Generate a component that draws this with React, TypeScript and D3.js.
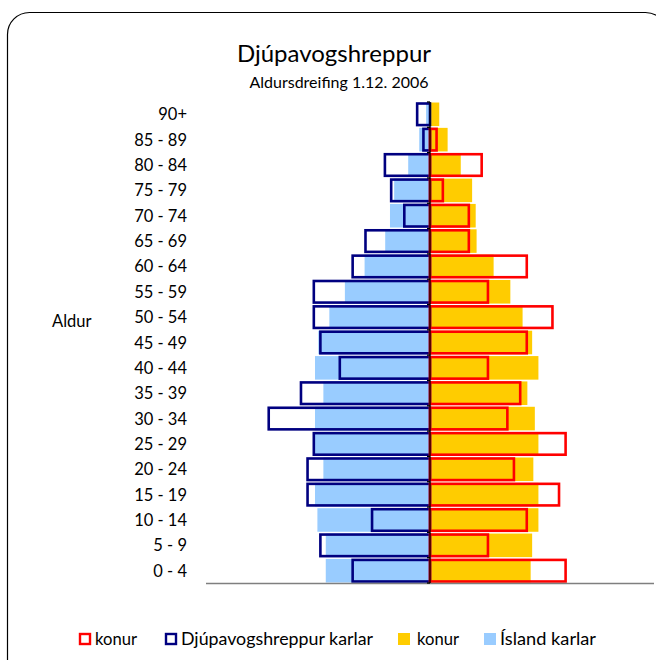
import React from "react";
import * as d3 from "d3";

const categories = [
  "0 - 4", "5 - 9", "10 - 14", "15 - 19", "20 - 24", "25 - 29", "30 - 34",
  "35 - 39", "40 - 44", "45 - 49", "50 - 54", "55 - 59", "60 - 64", "65 - 69",
  "70 - 74", "75 - 79", "80 - 84", "85 - 89", "90+",
];

// Percent of total population
const islandKarlar = [3.49, 3.49, 3.77, 3.85, 3.57, 3.87, 3.85, 3.57, 3.85, 3.74, 3.37, 2.85, 2.19, 1.50, 1.34, 1.20, 0.73, 0.36, 0.13];
const islandKonur = [3.37, 3.42, 3.63, 3.63, 3.46, 3.63, 3.51, 3.26, 3.63, 3.42, 3.10, 2.69, 2.13, 1.56, 1.53, 1.41, 1.03, 0.59, 0.31];
const djupKarlar = [2.59, 3.67, 1.94, 4.10, 4.10, 3.89, 5.40, 4.32, 3.02, 3.67, 3.89, 3.89, 2.59, 2.16, 0.86, 1.30, 1.51, 0.22, 0.43];
const djupKonur = [4.54, 1.94, 3.24, 4.32, 2.81, 4.54, 2.59, 3.02, 1.94, 3.24, 4.10, 1.94, 3.24, 1.30, 1.30, 0.43, 1.73, 0.22, 0.0];

const title = "Djúpavogshreppur";
const subtitle = "Aldursdreifing 1.12. 2006";
const yTitle = "Aldur";
const legendLabels = ["konur", "Djúpavogshreppur karlar", "konur", "Ísland karlar"];

const W = 656;
const H = 660;
const FONT = "Lato, 'Open Sans', sans-serif";

export default function App() {
  const x = d3.scaleLinear().domain([-7.5, 7.5]).range([206, 654]);
  const y = d3
    .scaleBand<string>()
    .domain([...categories].reverse())
    .range([102, 583])
    .paddingInner(0.07)
    .paddingOuter(0.02);
  const bw = y.bandwidth();
  const x0 = x(0);

  const boundaries = d3.range(categories.length + 1).map(
    (i) => 102 + (i * (583 - 102)) / categories.length
  );

  const legendItems = [
    { type: "outline", color: "#FF0000", sx: 79, tx: 95, w: 42, label: legendLabels[0] },
    { type: "outline", color: "#000080", sx: 165, tx: 181, w: 192, label: legendLabels[1] },
    { type: "fill", color: "#FFCC00", sx: 398, tx: 417, w: 42, label: legendLabels[2] },
    { type: "fill", color: "#99CCFF", sx: 484, tx: 500, w: 96, label: legendLabels[3] },
  ];

  return (
    <svg
      width={W}
      height={H}
      style={{ position: "absolute", left: 0, top: 0, background: "#fff" }}
      fontFamily={FONT}
    >
      <rect x={7.5} y={12.5} width={660} height={700} rx={22} ry={22} fill="#fff" stroke="#000" strokeWidth={1.2} />

      <text x={334} y={62} textAnchor="middle" fontSize={24} fill="#000">{title}</text>
      <text x={339} y={88} textAnchor="middle" fontSize={16} fill="#000">{subtitle}</text>

      {/* Ísland bars (filled) */}
      {categories.map((c, i) => (
        <g key={"isl" + c}>
          <rect x={x(-islandKarlar[i])} y={y(c)} width={x0 - x(-islandKarlar[i])} height={bw} fill="#99CCFF" />
          <rect x={x0} y={y(c)} width={x(islandKonur[i]) - x0} height={bw} fill="#FFCC00" />
        </g>
      ))}

      {/* Djúpavogshreppur bars (outlined) */}
      {categories.map((c, i) => (
        <g key={"dj" + c}>
          {djupKarlar[i] > 0 && (
            <rect x={x(-djupKarlar[i])} y={(y(c) as number) + 1} width={x0 - x(-djupKarlar[i])} height={bw - 2} fill="none" stroke="#000080" strokeWidth={2.6} />
          )}
          {djupKonur[i] > 0 && (
            <rect x={x0} y={(y(c) as number) + 1} width={x(djupKonur[i]) - x0} height={bw - 2} fill="none" stroke="#FF0000" strokeWidth={2.6} />
          )}
        </g>
      ))}

      {/* axes */}
      <line x1={206} x2={654} y1={583.5} y2={583.5} stroke="#7f7f7f" strokeWidth={1.6} />
      <line x1={x0} x2={x0} y1={102} y2={583} stroke="#000" strokeWidth={1.3} />
      {boundaries.map((b, i) => (
        <line key={"t" + i} x1={x0 - 3} x2={x0} y1={b} y2={b} stroke="#000" strokeWidth={1.3} />
      ))}

      {/* category labels */}
      {categories.map((c) => (
        <text key={"l" + c} x={187} y={(y(c) as number) + bw / 2 + 6} textAnchor="end" fontSize={16.5} fill="#000">{c}</text>
      ))}
      <text x={52} y={327} fontSize={16.5} fill="#000">{yTitle}</text>

      {/* legend */}
      {legendItems.map((d, i) => (
        <g key={"lg" + i}>
          {d.type === "outline" ? (
            <rect x={d.sx + 1} y={634} width={10} height={10} fill="none" stroke={d.color} strokeWidth={2.4} />
          ) : (
            <rect x={d.sx} y={633} width={12} height={12} fill={d.color} />
          )}
          <text x={d.tx} y={645} fontSize={17} fill="#000" textLength={d.w} lengthAdjust="spacingAndGlyphs">{d.label}</text>
        </g>
      ))}
    </svg>
  );
}
